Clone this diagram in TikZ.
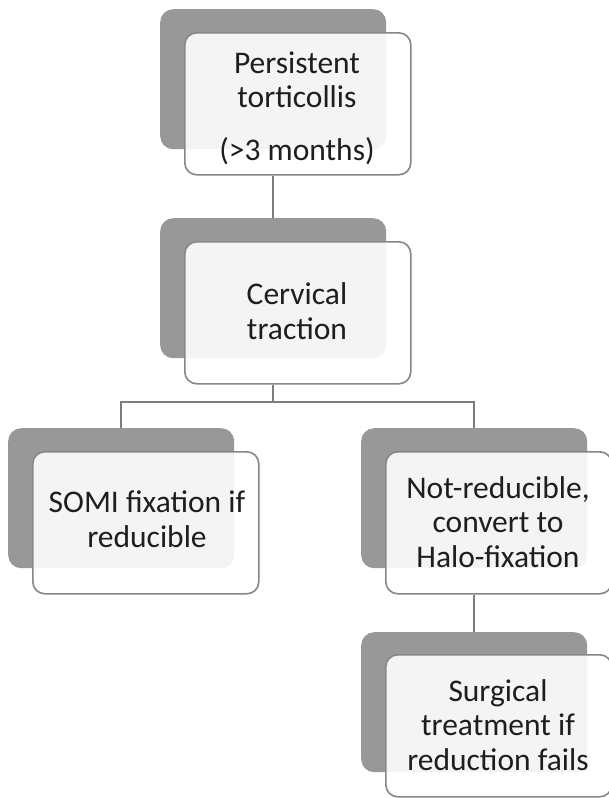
\documentclass[tikz,border=0pt]{standalone}
\usepackage{fontspec}
\setmainfont{Carlito}
\definecolor{backgray}{RGB}{152,152,152}
\definecolor{edgegray}{RGB}{135,135,135}
\definecolor{linegray}{RGB}{125,125,125}
\definecolor{txt}{RGB}{30,30,30}
\begin{document}
\begin{tikzpicture}[x=1pt,y=-1pt,
  back/.style={fill=backgray, draw=none, rounded corners=13pt, minimum width=226pt, minimum height=140pt, inner sep=0pt, anchor=north west},
  front/.style={fill=white, fill opacity=0.9, draw=edgegray, line width=1.6pt, rounded corners=12pt, minimum width=226pt, minimum height=142pt, inner sep=0pt, anchor=north west},
  lbl/.style={font=\fontsize{31.5}{34.5}\selectfont, align=center, text=txt, anchor=base, inner sep=0pt},
  link/.style={draw=linegray, line width=2pt}]
\useasboundingbox[fill=white] (0,0) rectangle (609,798);
% boxes
\node[back] (b1) at (160,9) {};
\node[front] (f1) at (184,32) {};
\node[back] (b2) at (160,218) {};
\node[front] (f2) at (184,241) {};
\node[back] (b3) at (8,428) {};
\node[front] (f3) at (32,451) {};
\node[back] (b4) at (361,428) {};
\node[front] (f4) at (385,451) {};
\node[back] (b5) at (361,632) {};
\node[front] (f5) at (385,654) {};
% labels (anchor at baseline of last line)
\node[lbl] (t1) at (297,160) {Persistent\\torticollis\\[18pt](>3 months)};
\node[lbl] (t2) at (297,339) {Cervical\\traction};
\node[lbl] (t3) at (147,547) {SOMI fixation if\\reducible};
\node[lbl] (t4) at (498,567) {Not-reducible,\\convert to\\Halo-fixation};
\node[lbl] (t5) at (498,770) {Surgical\\treatment if\\reduction fails};
% connectors
\coordinate (j) at (0,402);
\draw[link] (b1.center |- f1.south) -- (b2.north);
\draw[link] (b2.center |- f2.south) -- (b2.center |- j);
\draw[link] (b3.north) -- (b3.north |- j) -- (b4.north |- j) -- (b4.north);
\draw[link] (b4.center |- f4.south) -- (b5.north);
\end{tikzpicture}
\end{document}
